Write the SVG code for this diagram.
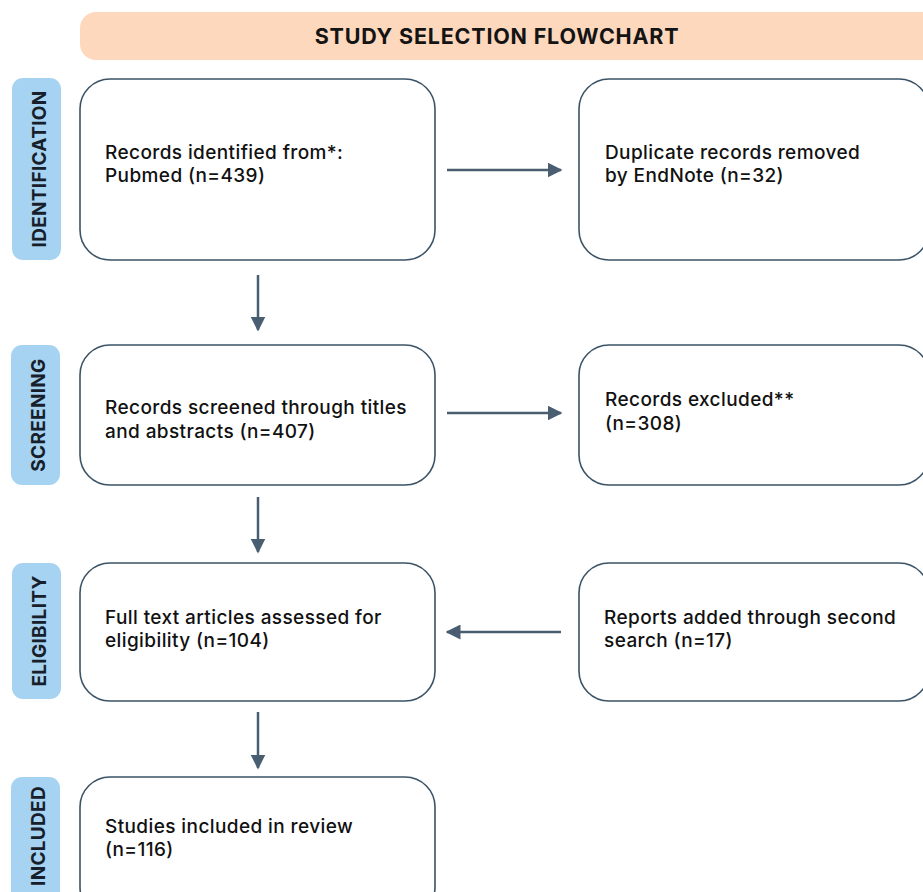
<svg xmlns="http://www.w3.org/2000/svg" width="923" height="892" viewBox="0 0 923 892">
<defs>
<style>
.box{fill:#ffffff;stroke:#3b5366;stroke-width:1.6}
.pill{fill:#a6d3f1}
.pt{font-family:Inter,"Liberation Sans",sans-serif;font-weight:700;font-size:19px;letter-spacing:0.3px;fill:#17202a;text-anchor:middle}
.t{font-family:Inter,"Liberation Sans",sans-serif;font-size:19px;font-weight:500;letter-spacing:0.4px;fill:#111111}
.title{font-family:Inter,"Liberation Sans",sans-serif;font-weight:700;font-size:21.5px;letter-spacing:0.8px;fill:#141414;text-anchor:middle}
.c{stroke:#4a5e72;stroke-width:2.5;fill:none}
</style>
<marker id="ah" viewBox="0 0 10 10" refX="9" refY="5" markerWidth="6" markerHeight="6" markerUnits="strokeWidth" orient="auto">
<path d="M0,0 L10,5 L0,10 z" fill="#4a5e72"/>
</marker>
</defs>
<rect width="923" height="892" fill="#ffffff"/>
<g id="title">
<rect x="80" y="12" width="870" height="48" rx="16" fill="#fdd8bd"/>
<text class="title" x="497" y="44">STUDY SELECTION FLOWCHART</text>
</g>
<g id="phase-identification">
<rect class="pill" x="12" y="78" width="49" height="182" rx="11"/>
<text class="pt" transform="translate(46,169) rotate(-90)">IDENTIFICATION</text>
</g>
<g id="phase-screening">
<rect class="pill" x="11" y="345" width="49" height="140" rx="11"/>
<text class="pt" transform="translate(45,415) rotate(-90)">SCREENING</text>
</g>
<g id="phase-eligibility">
<rect class="pill" x="12" y="563" width="49" height="136" rx="11"/>
<text class="pt" transform="translate(46,631) rotate(-90)">ELIGIBILITY</text>
</g>
<g id="phase-included">
<rect class="pill" x="11" y="777" width="49" height="140" rx="11"/>
<text class="pt" transform="translate(45,836) rotate(-90)">INCLUDED</text>
</g>
<g id="n-identified">
<rect class="box" x="80" y="79" width="355" height="181" rx="30"/>
<text class="t" x="105" y="159">Records identified from*:</text>
<text class="t" x="105" y="182">Pubmed (n=439)</text>
</g>
<g id="n-duplicates">
<rect class="box" x="579" y="79" width="350" height="181" rx="30"/>
<text class="t" x="605" y="159">Duplicate records removed</text>
<text class="t" x="605" y="182">by EndNote (n=32)</text>
</g>
<g id="n-screened">
<rect class="box" x="80" y="345" width="355" height="140" rx="30"/>
<text class="t" x="105" y="414">Records screened through titles</text>
<text class="t" x="105" y="438">and abstracts (n=407)</text>
</g>
<g id="n-excluded">
<rect class="box" x="579" y="345" width="350" height="140" rx="30"/>
<text class="t" x="605" y="406">Records excluded**</text>
<text class="t" x="605" y="430">(n=308)</text>
</g>
<g id="n-eligibility">
<rect class="box" x="80" y="563" width="355" height="138" rx="30"/>
<text class="t" x="105" y="624">Full text articles assessed for</text>
<text class="t" x="105" y="647">eligibility (n=104)</text>
</g>
<g id="n-reports">
<rect class="box" x="579" y="563" width="350" height="138" rx="30"/>
<text class="t" x="604" y="624">Reports added through second</text>
<text class="t" x="604" y="647">search (n=17)</text>
</g>
<g id="n-included">
<rect class="box" x="80" y="777" width="355" height="140" rx="30"/>
<text class="t" x="105" y="833">Studies included in review</text>
<text class="t" x="105" y="856">(n=116)</text>
</g>
<g id="connectors">
<line class="c" x1="447" y1="170" x2="561" y2="170" marker-end="url(#ah)"/>
<line class="c" x1="258" y1="275" x2="258" y2="330" marker-end="url(#ah)"/>
<line class="c" x1="447" y1="413" x2="561" y2="413" marker-end="url(#ah)"/>
<line class="c" x1="258" y1="497" x2="258" y2="552" marker-end="url(#ah)"/>
<line class="c" x1="561" y1="632" x2="447" y2="632" marker-end="url(#ah)"/>
<line class="c" x1="258" y1="712" x2="258" y2="768" marker-end="url(#ah)"/>
</g>
</svg>
